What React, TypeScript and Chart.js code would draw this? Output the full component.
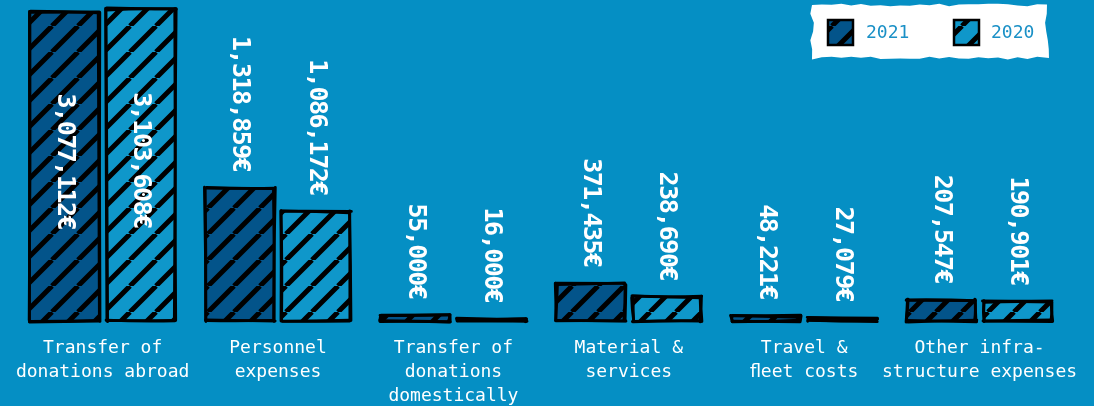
import React, { useEffect, useRef } from "react";
import { Chart, registerables } from "chart.js";
Chart.register(...registerables);

const categories: string[][] = [
  ["Transfer of", "donations abroad"],
  ["Personnel", "expenses"],
  ["Transfer of", "donations", "domestically"],
  ["Material &", "services"],
  ["Travel &", "\uFB02eet costs"],
  ["Other infra-", "structure expenses"],
];
const seriesNames = ["2021", "2020"];
const values2021 = [3077112, 1318859, 55000, 371435, 48221, 207547];
const values2020 = [3103608, 1086172, 16000, 238690, 27079, 190901];
const currencySuffix = "€";

const BG = "#058fc4";
const FILLS = ["#03548a", "#0f97ca"];
const LEGEND_TEXT = "#1a90c6";
const FONT = "'DejaVu Sans Mono', monospace";

const fmt = (v: number) => v.toLocaleString("en-US") + currencySuffix;

function rng(seed: number) {
  let s = (seed * 9301 + 49297) % 233280 || 1;
  return () => {
    s = (s * 16807) % 2147483647;
    return (s - 1) / 2147483646;
  };
}

function makeHatch(ctx: CanvasRenderingContext2D, fill: string, size = 26, lw = 5) {
  const c = document.createElement("canvas");
  c.width = size;
  c.height = size;
  const g = c.getContext("2d")!;
  g.fillStyle = fill;
  g.fillRect(0, 0, size, size);
  g.strokeStyle = "#000";
  g.lineWidth = lw;
  g.beginPath();
  for (const o of [-size, 0, size]) {
    g.moveTo(o, size);
    g.lineTo(o + size, 0);
  }
  g.stroke();
  return ctx.createPattern(c, "repeat")!;
}

function roughLine(ctx: CanvasRenderingContext2D, x1: number, y1: number, x2: number, y2: number, r: () => number) {
  for (let k = 0; k < 2; k++) {
    const j = (a: number) => (r() - 0.5) * 2 * a;
    ctx.beginPath();
    const mx = (x1 + x2) / 2 + j(0.8);
    const my = (y1 + y2) / 2 + j(0.8);
    ctx.moveTo(x1 + j(1.2), y1 + j(1.2));
    ctx.quadraticCurveTo(mx, my, x2 + j(1.2), y2 + j(1.2));
    ctx.stroke();
  }
}

function roughRect(ctx: CanvasRenderingContext2D, l: number, t: number, r_: number, b: number, seed: number) {
  const r = rng(seed);
  ctx.save();
  ctx.strokeStyle = "#000";
  ctx.lineWidth = 2.8;
  ctx.lineCap = "round";
  roughLine(ctx, l, t, r_, t, r);
  roughLine(ctx, r_, t, r_, b, r);
  roughLine(ctx, r_, b, l, b, r);
  roughLine(ctx, l, b, l, t, r);
  ctx.restore();
}

const sketchPlugin = {
  id: "sketchBars",
  afterDatasetsDraw(chart: any) {
    const ctx: CanvasRenderingContext2D = chart.ctx;
    chart.data.datasets.forEach((ds: any, di: number) => {
      const meta = chart.getDatasetMeta(di);
      meta.data.forEach((el: any, i: number) => {
        const { x, y, base, width } = el.getProps(["x", "y", "base", "width"], true);
        roughRect(ctx, x - width / 2, y, x + width / 2, base, di * 31 + i * 7 + 3);
        const txt = fmt(ds.data[i]);
        ctx.save();
        ctx.font = `bold 25px ${FONT}`;
        (ctx as any).letterSpacing = "-1.5px";
        const w = ctx.measureText(txt).width;
        const gap = 17;
        let cy: number;
        if (y - chart.chartArea.top < w + gap + 4) cy = (y + base) / 2 - 5;
        else cy = y - gap - w / 2;
        ctx.translate(x, cy);
        ctx.rotate(Math.PI / 2);
        ctx.fillStyle = "#fff";
        ctx.textAlign = "center";
        ctx.textBaseline = "middle";
        ctx.fillText(txt, 0, 0);
        ctx.restore();
      });
    });
  },
};

const legendPlugin = {
  id: "sketchLegend",
  afterDraw(chart: any) {
    const ctx: CanvasRenderingContext2D = chart.ctx;
    const W = chart.width;
    const L = W - 282;
    const T = 5;
    const BW = 235;
    const BH = 53;
    const r = rng(77);
    ctx.save();
    ctx.fillStyle = "#fff";
    ctx.beginPath();
    const pts: [number, number][] = [];
    const steps = 24;
    for (let k = 0; k <= steps; k++) pts.push([L + (BW * k) / steps, T + (r() - 0.5) * 3]);
    for (let k = 1; k <= 6; k++) pts.push([L + BW + (r() - 0.5) * 4, T + (BH * k) / 6]);
    for (let k = steps - 1; k >= 0; k--) pts.push([L + (BW * k) / steps, T + BH + (r() - 0.5) * 3]);
    for (let k = 5; k >= 1; k--) pts.push([L + (r() - 0.5) * 4, T + (BH * k) / 6]);
    pts.forEach((p, k) => (k === 0 ? ctx.moveTo(p[0], p[1]) : ctx.lineTo(p[0], p[1])));
    ctx.closePath();
    ctx.fill();

    const offsets = [[16, 54], [142, 179]];
    chart.data.datasets.forEach((ds: any, di: number) => {
      const ix = L + offsets[di][0];
      const iy = T + 15;
      ctx.fillStyle = ds.backgroundColor;
      ctx.fillRect(ix, iy, 25, 25);
      ctx.strokeStyle = "#000";
      ctx.lineWidth = 2.5;
      ctx.strokeRect(ix, iy, 25, 25);
      ctx.fillStyle = LEGEND_TEXT;
      ctx.font = `18px ${FONT}`;
      ctx.textAlign = "left";
      ctx.textBaseline = "middle";
      ctx.fillText(ds.label, L + offsets[di][1], iy + 13);
    });
    ctx.restore();
  },
};

export default function App() {
  const ref = useRef<HTMLCanvasElement | null>(null);
  useEffect(() => {
    const canvas = ref.current!;
    const ctx = canvas.getContext("2d")!;
    const series = [values2021, values2020];
    const maxVal = Math.max(...values2021, ...values2020);
    const chart = new Chart(ctx, {
      type: "bar",
      data: {
        labels: categories,
        datasets: series.map((vals, i) => ({
          label: seriesNames[i],
          data: vals,
          backgroundColor: makeHatch(ctx, FILLS[i]),
          borderWidth: 0,
          categoryPercentage: 0.87,
          barPercentage: 0.9,
        })),
      },
      options: {
        animation: false,
        responsive: true,
        maintainAspectRatio: false,
        layout: { padding: { top: 9, left: 12, right: 26, bottom: 0 } },
        plugins: { legend: { display: false }, tooltip: { enabled: false } },
        scales: {
          x: {
            grid: { display: false, drawTicks: false },
            border: { display: false },
            ticks: {
              color: "#fff",
              font: { family: FONT, size: 18, lineHeight: 1.35 },
              padding: 15,
              maxRotation: 0,
              autoSkip: false,
            },
            afterFit: (scale: any) => {
              scale.height = 85;
            },
          },
          y: { display: false, beginAtZero: true, max: maxVal },
        },
      },
      plugins: [sketchPlugin, legendPlugin],
    } as any);
    return () => chart.destroy();
  }, []);
  return (
    <div style={{ position: "fixed", left: 0, top: 0, width: 1094, height: 406, background: BG }}>
      <canvas ref={ref} />
    </div>
  );
}
